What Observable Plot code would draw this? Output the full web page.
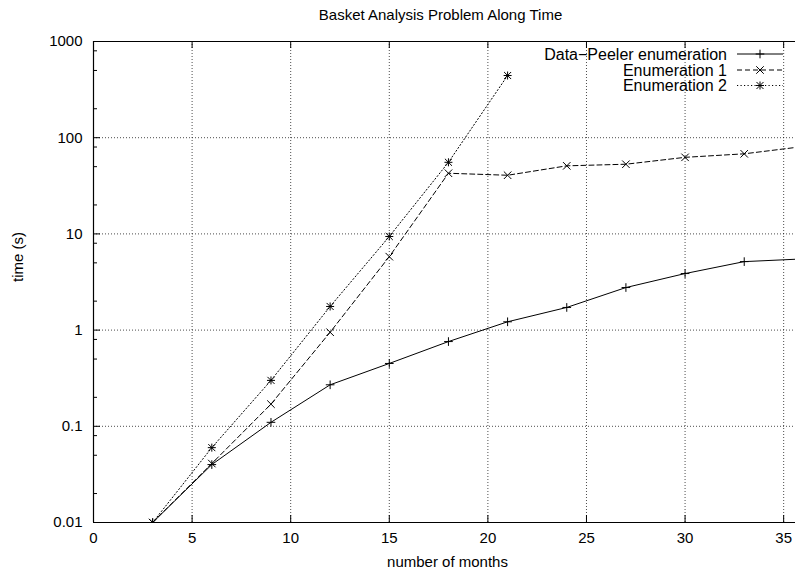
<!DOCTYPE html>
<html>
<head>
<meta charset="utf-8">
<script src="https://cdn.jsdelivr.net/npm/d3@7"></script>
<script src="https://cdn.jsdelivr.net/npm/@observablehq/plot@0.6"></script>
<style>
  html, body { margin: 0; padding: 0; background: #fff; overflow: hidden; }
  #chart svg { display: block; }
</style>
</head>
<body>
<div id="chart"></div>
<script>
// ---- data ----
const months = [3, 6, 9, 12, 15, 18, 21, 24, 27, 30, 33, 36];
const dataPeeler = [0.01, 0.04, 0.11, 0.27, 0.45, 0.76, 1.22, 1.72, 2.77, 3.87, 5.15, 5.5];
const enumeration1 = [0.01, 0.041, 0.17, 0.95, 5.8, 42.7, 40.7, 51, 53, 62.5, 68, 81];
const months2 = [3, 6, 9, 12, 15, 18, 21];
const enumeration2 = [0.01, 0.06, 0.30, 1.76, 9.4, 55.5, 443];

const seriesNames = ["Data\u2212Peeler enumeration", "Enumeration 1", "Enumeration 2"];
const title = "Basket Analysis Problem Along Time";
const xLabel = "number of months";
const yLabel = "time (s)";

const xTickValues = [0, 5, 10, 15, 20, 25, 30, 35];
const xTickLabels = ["0", "5", "10", "15", "20", "25", "30", "35"];
const yTickValues = [0.01, 0.1, 1, 10, 100, 1000];
const yTickLabels = ["0.01", "0.1", "1", "10", "100", "1000"];
const yMinorTicks = [0.02, 0.05, 0.08, 0.2, 0.5, 0.8, 2, 5, 8, 20, 50, 80, 200, 500, 800];
const xDomain = [0, 35.6];
const yDomain = [0.01, 1000];

// ---- layout ----
const W = 795, H = 573;
const mL = 93, mR = 0, mT = 41, mB = 51;
const frameW = W - mL - mR, frameH = H - mT - mB;
const font = "'Liberation Sans', Arial, Helvetica, sans-serif";
const fs = 15;
const legendFs = 16;

const s1 = months.map((m, i) => ({x: m, y: dataPeeler[i]}));
const s2 = months.map((m, i) => ({x: m, y: enumeration1[i]}));
const s3 = months2.map((m, i) => ({x: m, y: enumeration2[i]}));

const gridX = xTickValues.filter(v => v > xDomain[0]);
const gridY = yTickValues.filter(v => v > yDomain[0] && v < yDomain[1]);
const majorYInner = yTickValues.filter(v => v < yDomain[1]);

const gridStyle = {stroke: "#000", strokeOpacity: 0.7, strokeWidth: 1, strokeDasharray: "1,2"};
const dash1 = "5,3";
const dash2 = "1.2,2.3";

const chart = Plot.plot({
  width: W,
  height: H,
  marginLeft: mL,
  marginRight: mR,
  marginTop: mT,
  marginBottom: mB,
  style: {fontFamily: font, background: "#fff", overflow: "hidden"},
  x: {domain: xDomain, axis: null},
  y: {type: "log", domain: yDomain, axis: null},
  marks: [
    // grid
    Plot.ruleX(gridX, {x: d => d, ...gridStyle}),
    Plot.ruleY(gridY, {y: d => d, ...gridStyle}),
    // major ticks (bottom, top, left)
    Plot.ruleX(gridX, {x: d => d, insetTop: frameH - 7, stroke: "#000"}),
    Plot.ruleX(gridX, {x: d => d, insetBottom: frameH - 7, stroke: "#000"}),
    Plot.ruleY(majorYInner, {y: d => d, insetRight: frameW - 7, stroke: "#000"}),
    Plot.ruleY(yMinorTicks, {y: d => d, insetRight: frameW - 4, stroke: "#000"}),
    // borders
    Plot.ruleX([xDomain[0]], {x: d => d, stroke: "#000", strokeWidth: 1.2}),
    Plot.ruleY([yDomain[0]], {y: d => d, stroke: "#000", strokeWidth: 1.2}),
    Plot.ruleY([yDomain[1]], {y: d => d, stroke: "#000", strokeWidth: 1.2}),
    // tick labels
    Plot.text(xTickValues, {x: d => d, text: (d, i) => xTickLabels[i], frameAnchor: "bottom", lineAnchor: "middle", dy: 16, fontSize: fs, fill: "#000"}),
    Plot.text(yTickValues, {y: d => d, text: (d, i) => yTickLabels[i], frameAnchor: "left", textAnchor: "end", dx: -11, fontSize: fs, fill: "#000"}),
    // axis labels & title
    Plot.text([xLabel], {frameAnchor: "bottom", lineAnchor: "middle", dy: 40, dx: 3, fontSize: fs, fill: "#000"}),
    Plot.text([yLabel], {frameAnchor: "left", rotate: -90, dx: -75, fontSize: fs, fill: "#000"}),
    Plot.text([title], {frameAnchor: "top", lineAnchor: "middle", dy: -26, dx: -4, fontSize: fs, fill: "#000"}),
    // series lines
    Plot.line(s1, {x: "x", y: "y", stroke: "#000", strokeWidth: 1, clip: true}),
    Plot.line(s2, {x: "x", y: "y", stroke: "#000", strokeWidth: 1, strokeDasharray: dash1, clip: true}),
    Plot.line(s3, {x: "x", y: "y", stroke: "#000", strokeWidth: 1, strokeDasharray: dash2, clip: true}),
    // markers
    Plot.dot(s1, {x: "x", y: "y", symbol: "plus", r: 2.9, stroke: "#000", strokeWidth: 1, clip: true}),
    Plot.dot(s2, {x: "x", y: "y", symbol: "times", r: 3.5, stroke: "#000", strokeWidth: 1, clip: true}),
    Plot.dot(s3, {x: "x", y: "y", symbol: "plus", r: 2.7, stroke: "#000", strokeWidth: 1, clip: true}),
    Plot.dot(s3, {x: "x", y: "y", symbol: "times", r: 3.3, stroke: "#000", strokeWidth: 1, clip: true})
  ]
});

// ---- legend (top-right, inside frame) ----
const svg = d3.select(chart);
const lg = svg.append("g").attr("font-family", font).attr("font-size", legendFs);
const dashes = [null, dash1, dash2];
const legendRowY = [54, 70, 85.5];
const textRight = 727, lineX1 = 737, lineX2 = 783, symX = 760;
const plusPath = d3.symbol(d3.symbolPlus, 2.9 * 2.9 * Math.PI)();
const timesPath = d3.symbol(d3.symbolTimes, 3.5 * 3.5 * Math.PI)();
const plusPath2 = d3.symbol(d3.symbolPlus, 2.7 * 2.7 * Math.PI)();
const timesPath2 = d3.symbol(d3.symbolTimes, 3.3 * 3.3 * Math.PI)();
seriesNames.forEach((name, i) => {
  const y = legendRowY[i];
  lg.append("text").attr("x", textRight).attr("y", y).attr("dy", "0.35em")
    .attr("text-anchor", "end").attr("fill", "#000").text(name);
  const ln = lg.append("line").attr("x1", lineX1).attr("x2", lineX2)
    .attr("y1", y).attr("y2", y).attr("stroke", "#000").attr("stroke-width", 1);
  if (dashes[i]) ln.attr("stroke-dasharray", dashes[i]);
  const paths = i === 0 ? [plusPath] : i === 1 ? [timesPath] : [plusPath2, timesPath2];
  paths.forEach(p => lg.append("path").attr("d", p)
    .attr("transform", `translate(${symX},${y})`)
    .attr("fill", "none").attr("stroke", "#000").attr("stroke-width", 1));
});

document.getElementById("chart").appendChild(chart);
</script>
</body>
</html>
